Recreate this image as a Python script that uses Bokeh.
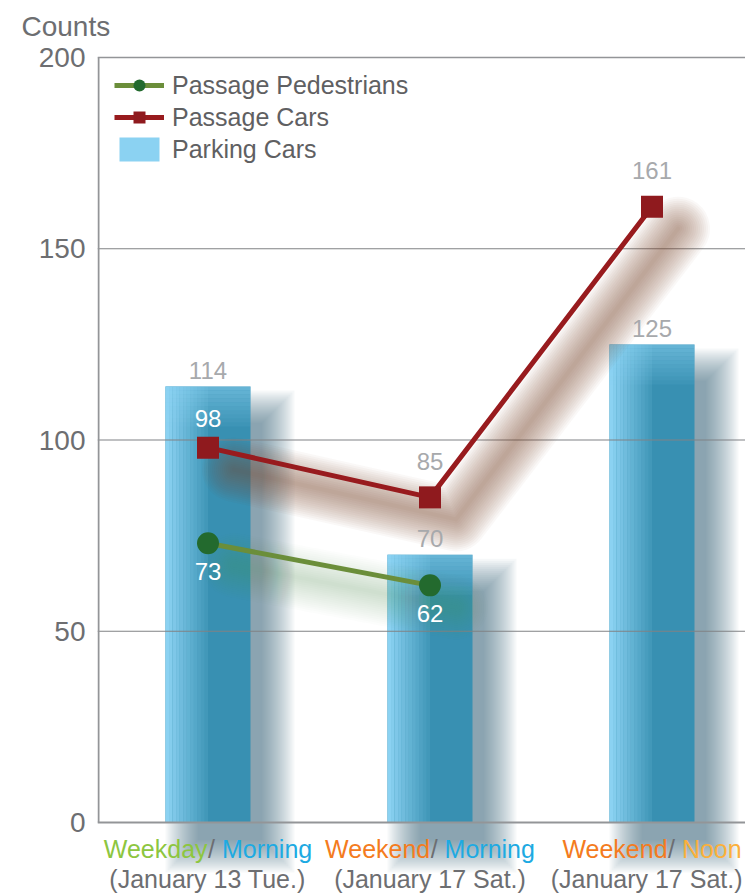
from bokeh.plotting import figure
from bokeh.models import Range1d, FixedTicker, Legend, LegendItem, ColumnDataSource
from bokeh.core.properties import value
from bokeh.embed import file_html
from bokeh.resources import INLINE

# ---------------- data ----------------
cat_part1 = ["Weekday", "Weekend", "Weekend"]
cat_part2 = ["Morning", "Morning", "Noon"]
cat_dates = ["(January 13 Tue.)", "(January 17 Sat.)", "(January 17 Sat.)"]
parking_cars = [114, 70, 125]
passage_cars = [98, 85, 161]
passage_pedestrians = [73, 62]
y_ticks = [0, 50, 100, 150, 200]
grid_values = [50, 100, 150]

# ---------------- styling ----------------
FONT = "Liberation Sans"
GRAY_TXT = "#6d6e71"
LABEL_GRAY = "#a7a9ac"
AXIS_COL = "#939598"
part1_colors = ["#8dc63f", "#f47b20", "#f47b20"]
part2_colors = ["#1eaae2", "#1eaae2", "#fbb03b"]

PX_X = 222.0      # pixels per category
PX_Y = 3.825      # pixels per count
xs = [i + 0.5 for i in range(len(parking_cars))]
x_start = 0.5 - 110.5 / PX_X
x_end = x_start + 648 / PX_X
y_end = 200 + 4 / PX_Y
y_start = y_end - 840 / PX_Y
bw = 85 / PX_X

p = figure(width=745, height=893, output_backend="svg", toolbar_location=None,
           x_range=Range1d(x_start, x_end), y_range=Range1d(y_start, y_end),
           x_axis_location=None, min_border_left=97, min_border_right=0,
           min_border_top=53, min_border_bottom=0)
p.outline_line_color = None
p.xgrid.visible = False
p.ygrid.grid_line_color = None
p.background_fill_color = "white"

ax = p.yaxis[0]
ax.ticker = FixedTicker(ticks=y_ticks)
ax.axis_line_color = None
ax.major_tick_line_color = None
ax.minor_tick_line_color = None
ax.major_tick_out = 0
ax.major_tick_in = 0
ax.major_label_standoff = 12
ax.major_label_text_font = FONT
ax.major_label_text_font_size = "28px"
ax.major_label_text_color = GRAY_TXT

p.title.text = "Counts"
p.title.align = "left"
p.title.offset = -76
p.title.vertical_align = "top"
p.title.standoff = 20
p.title.text_font = FONT
p.title.text_font_size = "28px"
p.title.text_font_style = "normal"
p.title.text_color = GRAY_TXT

# ---------------- bar shadows (soft, offset right/down) ----------------
for s in range(-10, 24, 2):
    p.vbar(x=[x + 22 / PX_X for x in xs], width=bw + 2 * s / PX_X,
           top=[v - (26 - s) / PX_Y for v in parking_cars],
           bottom=-(28 + s) / PX_Y,
           fill_color="#2c5a72", fill_alpha=0.042, line_color=None)

# ---------------- bars ----------------
p.vbar(x=xs, width=bw, top=parking_cars, bottom=0,
       fill_color="#3890b2", line_color=None)
proxy = None
n_strips = 12
sw = bw * 0.5 / n_strips
for i in range(n_strips):
    a = 1.0 - i * 0.08
    r = p.vbar(x=[x - bw / 2 + sw * (i + 0.5) for x in xs], width=sw,
               top=parking_cars, bottom=0,
               fill_color="#8bd2f2", fill_alpha=a, line_color=None)
    if i == 0:
        proxy = r
for i in range(10):
    a = 0.55 - i * 0.052
    p.vbar(x=xs, width=bw,
           top=[v - 4 * i / PX_Y for v in parking_cars],
           bottom=[v - 4 * (i + 1) / PX_Y for v in parking_cars],
           fill_color="#8bd2f2", fill_alpha=a, line_color=None)

# ---------------- grid & axis lines ----------------
p.segment(x0=x_start, x1=x_end, y0=grid_values, y1=grid_values,
          line_color="#808285", line_width=1.2)
p.segment(x0=[x_start], x1=[x_end], y0=[200], y1=[200],
          line_color=AXIS_COL, line_width=1.5)
p.segment(x0=[x_start], x1=[x_end], y0=[0], y1=[0],
          line_color=AXIS_COL, line_width=2)
p.segment(x0=[x_start + 1 / PX_X], x1=[x_start + 1 / PX_X], y0=[0], y1=[200],
          line_color=AXIS_COL, line_width=2)

# ---------------- line shadows (soft) ----------------
ped_x = xs[:len(passage_pedestrians)]
for w in range(64, 0, -4):
    p.line([x + 26 / PX_X for x in ped_x], [v - 22 / PX_Y for v in passage_pedestrians],
           line_color="#7a8458", line_alpha=0.02, line_width=w,
           line_join="round", line_cap="round")
for w in range(64, 0, -4):
    p.line([x + 26 / PX_X for x in xs], [v - 22 / PX_Y for v in passage_cars],
           line_color="#8a4a38", line_alpha=0.04, line_width=w,
           line_join="round", line_cap="round")

# ---------------- lines ----------------
g_line = p.line(ped_x, passage_pedestrians, line_color="#6b8e3a", line_width=5)
g_pts = p.scatter(ped_x, passage_pedestrians, marker="circle", size=22,
                  fill_color="#236a2e", line_color=None)
r_line = p.line(xs, passage_cars, line_color="#981b1e", line_width=5)
r_pts = p.scatter(xs, passage_cars, marker="square", size=22,
                  fill_color="#8f1a1e", line_color=None)

# ---------------- value labels ----------------
def labels(xv, yv, off, color):
    p.text(x=xv, y=yv, text=[str(v) for v in yv], y_offset=off,
           text_align="center", text_baseline="middle",
           text_font=value(FONT), text_font_size="24px", text_color=color)

labels(xs, parking_cars, -16, LABEL_GRAY)
labels(xs[:1], passage_cars[:1], -29, "white")
labels(xs[1:], passage_cars[1:], -36, LABEL_GRAY)
labels(ped_x, passage_pedestrians, 28, "white")

# ---------------- category labels ----------------
ARIAL = {"W": 944, "e": 556, "k": 500, "d": 556, "a": 556, "y": 500, "n": 556,
         "M": 833, "o": 556, "r": 333, "i": 222, "g": 556, "N": 722, "/": 278, " ": 278,
         "(": 333, ")": 333, "J": 500, "u": 556, "1": 556, "3": 556, "7": 556,
         "T": 611, ".": 278, "S": 667, "t": 278}
FS = 25
RIGHT_PX = 742 - 97  # last visible pixel inside the frame, measured from frame left
def tw(s):
    return sum(ARIAL.get(c, 556) for c in s) * FS / 1000.0

src = dict(x=[], y=[], text=[], color=[], xo=[], yo=[])
for x, a, b, d, ca, cb in zip(xs, cat_part1, cat_part2, cat_dates, part1_colors, part2_colors):
    cx = (x - x_start) * PX_X
    total = tw(a) + tw("/ ") + tw(b)
    left = -total / 2
    for t, c, xo in [(a, ca, left), ("/", GRAY_TXT, left + tw(a)),
                     (b, cb, left + tw(a) + tw("/ "))]:
        src["x"].append(x); src["y"].append(0); src["text"].append(t)
        src["color"].append(c); src["xo"].append(xo); src["yo"].append(26)
    wd = tw(d)
    dl = min(-wd / 2, RIGHT_PX - cx - wd)
    src["x"].append(x); src["y"].append(0); src["text"].append(d)
    src["color"].append(GRAY_TXT); src["xo"].append(dl); src["yo"].append(56)
p.text(x="x", y="y", text="text", text_color="color", x_offset="xo", y_offset="yo",
       text_align="left", text_baseline="middle", text_font=value(FONT),
       text_font_size=f"{FS}px", source=ColumnDataSource(src))

# ---------------- legend ----------------
legend = Legend(items=[
    LegendItem(label="Passage Pedestrians", renderers=[g_line, g_pts]),
    LegendItem(label="Passage Cars", renderers=[r_line, r_pts]),
    LegendItem(label="Parking Cars", renderers=[proxy]),
], location="top_left")
legend.margin = 17
legend.padding = 0
legend.glyph_width = 50
legend.glyph_height = 30
legend.spacing = 2
legend.label_standoff = 8
legend.label_text_font = FONT
legend.label_text_font_size = "25px"
legend.label_text_color = "#5f6062"
legend.background_fill_alpha = 0
legend.border_line_color = None
p.add_layout(legend)

open("out.html", "w").write(file_html(p, INLINE))
